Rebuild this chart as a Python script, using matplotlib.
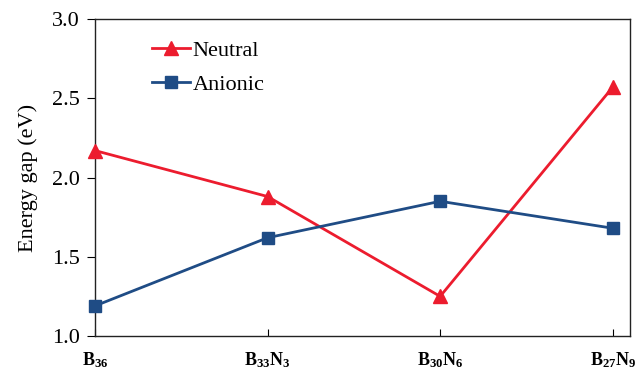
import matplotlib
matplotlib.use("Agg")
import matplotlib.pyplot as plt

categories = [r"$\mathbf{B_{36}}$", r"$\mathbf{B_{33}N_{3}}$", r"$\mathbf{B_{30}N_{6}}$", r"$\mathbf{B_{27}N_{9}}$"]
neutral = [2.17, 1.88, 1.25, 2.57]
anionic = [1.19, 1.62, 1.85, 1.68]
yticks = [1.0, 1.5, 2.0, 2.5, 3.0]

plt.rcParams['font.family'] = ['Liberation Serif', 'DejaVu Serif']
plt.rcParams['mathtext.fontset'] = 'custom'
plt.rcParams['mathtext.rm'] = 'Liberation Serif'
plt.rcParams['mathtext.bf'] = 'Liberation Serif:bold'
plt.rcParams['mathtext.it'] = 'Liberation Serif:italic'

fig = plt.figure(figsize=(6.35, 3.7), dpi=100)
ax = fig.add_axes([0.1496, 0.0919, 0.8425, 0.8567])

x = list(range(len(categories)))
ax.plot(x, neutral, color='#EC1C2E', lw=2.0, marker='^', ms=9.5, label='Neutral', clip_on=False, zorder=3)
ax.plot(x, anionic, color='#1F4C85', lw=2.0, marker='s', ms=8.5, label='Anionic', clip_on=False, zorder=3)

ax.set_xlim(0, 3.1)
ax.set_ylim(1.0, 3.0)
ax.set_yticks(yticks)
ax.set_yticklabels([f"{v:.1f}" for v in yticks])
ax.set_xticks(x)
ax.set_xticklabels(categories, fontsize=13)
ax.tick_params(axis='x', direction='in', length=5, pad=10, colors='black')
ax.tick_params(axis='y', direction='out', length=6, labelsize=16, pad=5)
ax.set_ylabel("Energy gap (eV)", fontsize=16, labelpad=10)
for s in ax.spines.values():
    s.set_linewidth(1.0)
    s.set_color('#222222')

ax.legend(loc='upper left', bbox_to_anchor=(0.07, 0.995), frameon=False, fontsize=16,
          handlelength=1.7, handletextpad=0.1, labelspacing=0.6)

fig.savefig("out.png", dpi=100)
